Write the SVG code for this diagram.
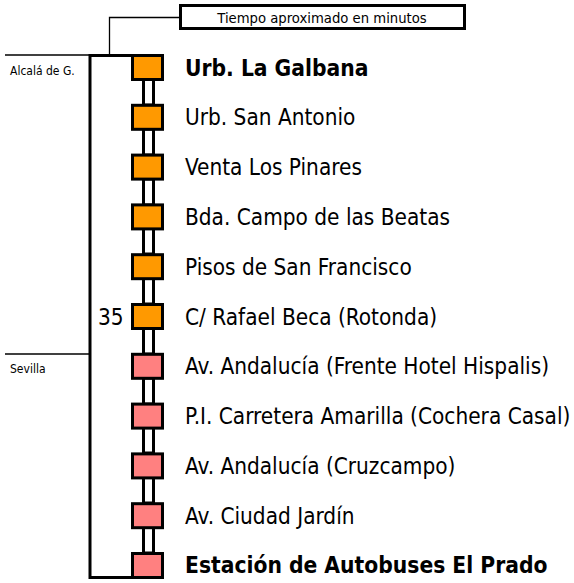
<svg xmlns="http://www.w3.org/2000/svg" width="574" height="583" viewBox="0 0 574 583">
<style>
.thin{stroke:#000;stroke-width:1.3;fill:none}
.thick{stroke:#000;stroke-width:3;fill:none}
.sq{stroke:#000;stroke-width:3}
.o{fill:#FF9900}
.p{fill:#FF8080}
.lnk{fill:#fff;stroke:#000;stroke-width:3}
text{font-family:"DejaVu Sans Condensed","DejaVu Sans",sans-serif;font-stretch:condensed;fill:#000}
.t{font-size:22.4px}
.b{font-weight:bold;font-size:22.6px}
.s{font-size:12px}
.h{font-size:14.7px}
</style>
<g id="connectors">
<polyline class="thin" points="180,17.5 109.5,17.5 109.5,55"/>
<line class="thin" x1="5" y1="55" x2="90" y2="55"/>
<line class="thin" x1="5" y1="354" x2="90" y2="354"/>
<polyline class="thick" points="133,55.5 90,55.5 90,577.5 133,577.5"/>
<rect class="lnk" x="143.5" y="79" width="10" height="26"/>
<rect class="lnk" x="143.5" y="129" width="10" height="26"/>
<rect class="lnk" x="143.5" y="179" width="10" height="26"/>
<rect class="lnk" x="143.5" y="228" width="10" height="26"/>
<rect class="lnk" x="143.5" y="278" width="10" height="26"/>
<rect class="lnk" x="143.5" y="328" width="10" height="26"/>
<rect class="lnk" x="143.5" y="378" width="10" height="26"/>
<rect class="lnk" x="143.5" y="427" width="10" height="26"/>
<rect class="lnk" x="143.5" y="477" width="10" height="26"/>
<rect class="lnk" x="143.5" y="527" width="10" height="26"/>
</g>
<g id="legend">
<rect class="thick" x="180.5" y="5.5" width="284" height="23"/>
<text class="h" x="322" y="23" text-anchor="middle">Tiempo aproximado en minutos</text>
</g>
<g id="zones">
<text class="s" x="10" y="75">Alcalá de G.</text>
<text class="s" x="10" y="373">Sevilla</text>
<text class="t" x="98" y="325">35</text>
</g>
<g id="n1"><rect class="sq o" x="132.5" y="55.5" width="30" height="24"/><text class="t b" x="185" y="76">Urb. La Galbana</text></g>
<g id="n2"><rect class="sq o" x="132.5" y="105.3" width="30" height="24"/><text class="t" x="185" y="125">Urb. San Antonio</text></g>
<g id="n3"><rect class="sq o" x="132.5" y="155.1" width="30" height="24"/><text class="t" x="185" y="175">Venta Los Pinares</text></g>
<g id="n4"><rect class="sq o" x="132.5" y="204.9" width="30" height="24"/><text class="t" x="185" y="225">Bda. Campo de las Beatas</text></g>
<g id="n5"><rect class="sq o" x="132.5" y="254.7" width="30" height="24"/><text class="t" x="185" y="275">Pisos de San Francisco</text></g>
<g id="n6"><rect class="sq o" x="132.5" y="304.5" width="30" height="24"/><text class="t" x="185" y="325">C/ Rafael Beca (Rotonda)</text></g>
<g id="n7"><rect class="sq p" x="132.5" y="354.3" width="30" height="24"/><text class="t" x="185" y="374">Av. Andalucía (Frente Hotel Hispalis)</text></g>
<g id="n8"><rect class="sq p" x="132.5" y="404.1" width="30" height="24"/><text class="t" x="185" y="424">P.I. Carretera Amarilla (Cochera Casal)</text></g>
<g id="n9"><rect class="sq p" x="132.5" y="453.9" width="30" height="24"/><text class="t" x="185" y="474">Av. Andalucía (Cruzcampo)</text></g>
<g id="n10"><rect class="sq p" x="132.5" y="503.7" width="30" height="24"/><text class="t" x="185" y="524">Av. Ciudad Jardín</text></g>
<g id="n11"><rect class="sq p" x="132.5" y="553.5" width="30" height="24"/><text class="t b" x="185" y="573">Estación de Autobuses El Prado</text></g>
</svg>
